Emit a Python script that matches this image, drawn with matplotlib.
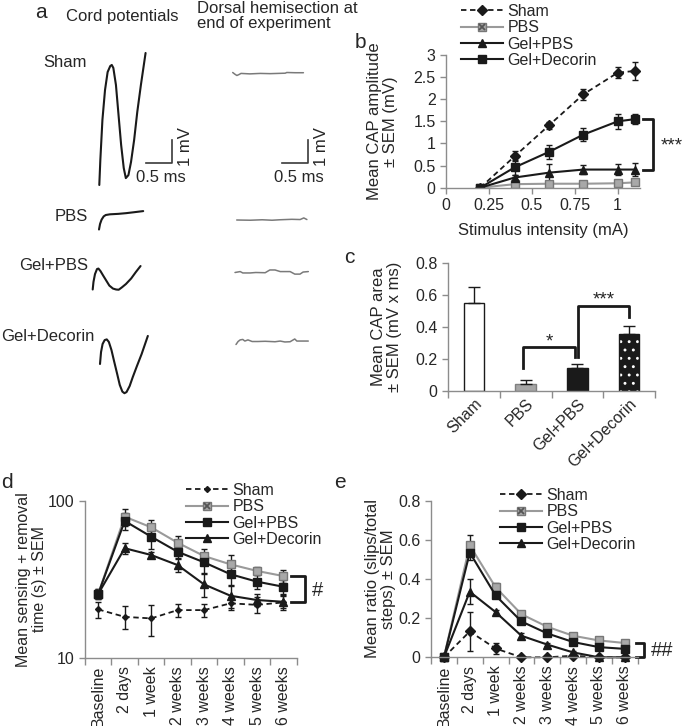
import matplotlib
matplotlib.use('Agg')
import matplotlib.pyplot as plt
from matplotlib.legend_handler import HandlerTuple

plt.rcParams['font.family'] = ['Liberation Sans', 'DejaVu Sans']
FS = 11.5
FL = 12
TXT = '#262626'
AXC = '#8c8c8c'
BLK = '#1a1a1a'
plt.rcParams.update({'font.size': FS, 'text.color': TXT, 'axes.labelcolor': TXT,
                     'xtick.color': AXC, 'ytick.color': AXC,
                     'xtick.labelcolor': TXT, 'ytick.labelcolor': TXT,
                     'axes.edgecolor': AXC, 'hatch.linewidth': 0.9})

# ------------------------------------------------------------------ data
groups = ['Sham', 'PBS', 'Gel+PBS', 'Gel+Decorin']

# panel a: example traces (time in ms, potential in mV, relative to trace start)
cord_sham_t = [0, 0.02, 0.06, 0.11, 0.16, 0.21, 0.24, 0.27, 0.32, 0.37, 0.42, 0.47, 0.51, 0.56, 0.61, 0.67, 0.73, 0.80, 0.89]
cord_sham_v = [0, 1.09, 2.83, 4.13, 4.91, 5.17, 5.22, 5.09, 4.35, 3.04, 1.74, 0.74, 0.30, 0.43, 1.0, 1.96, 3.17, 4.35, 5.74]
cord_pbs_t = [0, 0.02, 0.05, 0.09, 0.13, 0.21, 0.37, 0.52, 0.67, 0.85]
cord_pbs_v = [0, 0.24, 0.43, 0.57, 0.63, 0.66, 0.68, 0.71, 0.75, 0.80]
cord_gelpbs_t = [0, 0.015, 0.044, 0.083, 0.11, 0.15, 0.20, 0.26, 0.32, 0.39, 0.45, 0.50, 0.56, 0.64, 0.74, 0.83, 0.92]
cord_gelpbs_v = [0, 0.33, 0.67, 0.89, 0.91, 0.80, 0.61, 0.39, 0.17, 0.04, 0, -0.01, 0.09, 0.24, 0.48, 0.76, 1.02]
cord_geldec_t = [0, 0.02, 0.05, 0.09, 0.13, 0.17, 0.22, 0.27, 0.33, 0.38, 0.43, 0.47, 0.51, 0.57, 0.63, 0.71, 0.80, 0.92]
cord_geldec_v = [0, 0.52, 0.87, 1.04, 1.07, 0.96, 0.61, 0.13, -0.43, -0.91, -1.20, -1.27, -1.22, -0.96, -0.57, -0.09, 0.43, 1.22]

hemi_sham_t = [0, 0.04, 0.08, 0.12, 0.16, 0.33, 0.53, 0.72, 1.01, 1.04, 1.20, 1.36]
hemi_sham_v = [0, -0.07, -0.13, -0.09, -0.04, -0.06, -0.04, -0.05, -0.03, 0, -0.01, -0.01]
hemi_pbs_t = [0, 0.26, 0.49, 0.68, 0.83, 1.06, 1.22, 1.29, 1.35]
hemi_pbs_v = [0, -0.01, 0.01, -0.01, 0.01, 0.03, 0.02, 0.09, 0.02]
hemi_gelpbs_t = [0, 0.10, 0.15, 0.29, 0.40, 0.58, 0.67, 0.77, 0.87, 1.06, 1.15, 1.25, 1.31, 1.41]
hemi_gelpbs_v = [0, 0.04, -0.02, -0.02, 0, -0.01, 0.11, 0.11, 0.04, 0.04, -0.07, -0.07, 0.02, 0.04]
hemi_geldec_t = [0, 0.04, 0.08, 0.13, 0.17, 0.23, 0.31, 0.42, 0.56, 0.75, 0.85, 0.94, 1.04, 1.10, 1.13, 1.17, 1.23, 1.39]
hemi_geldec_v = [0, 0.13, 0.20, 0.22, 0.15, 0.20, 0.13, 0.13, 0.14, 0.12, 0.15, 0.11, 0.12, 0.20, 0.24, 0.15, 0.15, 0.15]

# panel b: CAP amplitude vs stimulus
stim_mA = [0.2, 0.4, 0.6, 0.8, 1.0, 1.1]
amp_sham = [0, 0.71, 1.41, 2.11, 2.6, 2.64]
amp_sham_err = [0, 0.11, 0.08, 0.12, 0.12, 0.2]
amp_pbs = [0, 0.08, 0.09, 0.09, 0.1, 0.12]
amp_pbs_err = [0, 0.02, 0.02, 0.02, 0.02, 0.03]
amp_gelpbs = [0, 0.23, 0.34, 0.41, 0.41, 0.41]
amp_gelpbs_err = [0, 0.05, 0.2, 0.1, 0.12, 0.15]
amp_geldec = [0, 0.46, 0.81, 1.2, 1.5, 1.55]
amp_geldec_err = [0, 0.17, 0.15, 0.15, 0.17, 0.12]

# panel c: CAP area
area_mean = [0.55, 0.045, 0.14, 0.355]
area_err = [0.10, 0.02, 0.025, 0.05]

# panels d, e
time_labels = ['Baseline', '2 days', '1 week', '2 weeks', '3 weeks', '4 weeks', '5 weeks', '6 weeks']
sr_sham = [20.3, 18.2, 17.8, 20.1, 20.1, 22.2, 21.7, 22.5]
sr_sham_err = [2.5, 3, 4, 2, 2, 2, 2.5, 2.5]
sr_pbs = [25.5, 79.1, 67.7, 54.0, 44.4, 39.3, 35.7, 33.1]
sr_pbs_err = [2, 10, 8, 6, 5, 6, 2, 3]
sr_gelpbs = [25.5, 74.3, 59.0, 47.3, 40.5, 34.0, 30.5, 28.3]
sr_gelpbs_err = [2, 9, 10, 5, 6, 5, 3, 3]
sr_geldec = [25.5, 49.8, 45.1, 38.9, 29.3, 24.8, 23.3, 22.7]
sr_geldec_err = [1.5, 4, 2, 4, 5, 4, 2, 2]

sl_sham = [0, 0.132, 0.045, 0, 0, 0.008, 0, 0]
sl_sham_err = [0, 0.1, 0.027, 0, 0, 0.008, 0, 0]
sl_pbs = [0, 0.572, 0.358, 0.22, 0.156, 0.11, 0.086, 0.073]
sl_pbs_err = [0, 0.055, 0.02, 0.01, 0.01, 0.008, 0.008, 0.006]
sl_gelpbs = [0, 0.535, 0.316, 0.183, 0.122, 0.078, 0.052, 0.043]
sl_gelpbs_err = [0, 0.04, 0.012, 0.01, 0.01, 0.008, 0.006, 0.006]
sl_geldec = [0, 0.335, 0.231, 0.11, 0.065, 0.025, 0, 0]
sl_geldec_err = [0, 0.065, 0.01, 0.012, 0.008, 0.008, 0, 0]

# ------------------------------------------------------------------ layout helpers
FW, FH = 685, 726
fig = plt.figure(figsize=(FW / 100, FH / 100), dpi=100)


def rect(l, t, r, b):
    return [l / FW, 1 - b / FH, (r - l) / FW, (b - t) / FH]


def ftext(x, y, s, **kw):
    fig.text(x / FW, 1 - y / FH, s, **kw)


def style_axes(ax):
    for s in ['top', 'right']:
        ax.spines[s].set_visible(False)
    for s in ['left', 'bottom']:
        ax.spines[s].set_color(AXC)
        ax.spines[s].set_linewidth(1)
    ax.tick_params(which='both', direction='out', length=4, width=1, labelsize=FS)


def ylabel_at(ax, text, right_px, size=FL):
    ax.set_ylabel(text, fontsize=size, linespacing=1.1)
    bb = ax.get_position()
    ax.yaxis.set_label_coords((right_px / FW - bb.x0) / bb.width, 0.5)


def series(ax, x, y, err, kind, sham_ms=5):
    kw = dict(capsize=2.5, ecolor=BLK, elinewidth=1, capthick=1)
    if kind == 'Sham':
        h = ax.errorbar(x, y, yerr=err, color=BLK, ls=(0, (3, 2)), lw=1.3, marker='D', ms=sham_ms, **kw)
        return h.lines[0]
    if kind == 'PBS':
        h = ax.errorbar(x, y, yerr=err, color='#9a9a9a', lw=1.5, marker='s', ms=6,
                        mfc='#a8a8a8', mec='#777777', **kw)
        h2, = ax.plot(x, y, ls='none', marker='x', ms=5, mew=1.3, color='#555555')
        return (h.lines[0], h2)
    h = ax.errorbar(x, y, yerr=err, color=BLK, lw=1.5, marker=kind, ms=6, **kw)
    return h.lines[0]


def cat_axis(ax, labels, rot, pad=4):
    n = len(labels)
    ax.set_xlim(-0.5, n - 0.5)
    ax.set_xticks(range(n))
    ax.set_xticklabels(labels, rotation=rot)
    ax.set_xticks([i - 0.5 for i in range(n + 1)], minor=True)
    ax.tick_params(axis='x', which='major', length=0, pad=pad)
    ax.tick_params(axis='x', which='minor', length=5)


def legend(ax, handles, x, y):
    ax.legend(handles, groups, loc='upper left', bbox_to_anchor=(x / FW, 1 - y / FH),
              bbox_transform=fig.transFigure, frameon=False, borderpad=0, borderaxespad=0,
              handlelength=2.6, handletextpad=0.3, labelspacing=0.08, fontsize=FS,
              handler_map={tuple: HandlerTuple(ndivide=1, pad=0)})


# ------------------------------------------------------------------ panel a
PX_MS, PX_MV = 52.0, 23.0
WA, HA = 340, 450
axa = fig.add_axes(rect(0, 0, WA, HA))
axa.set_xlim(0, WA / PX_MS)
axa.set_ylim(-HA / PX_MV, 0)
axa.axis('off')


def trace(t, v, start, color, lw):
    x0, y0 = start[0] / PX_MS, -start[1] / PX_MV
    axa.plot([x0 + a for a in t], [y0 + b for b in v], color=color, lw=lw,
             solid_joinstyle='round', solid_capstyle='round')


trace(cord_sham_t, cord_sham_v, (99.3, 185), BLK, 1.5)
trace(cord_pbs_t, cord_pbs_v, (99, 229.5), BLK, 1.5)
trace(cord_gelpbs_t, cord_gelpbs_v, (92.7, 289.5), BLK, 1.5)
trace(cord_geldec_t, cord_geldec_v, (100, 364), BLK, 1.5)
trace(hemi_sham_t, hemi_sham_v, (232.7, 72.5), '#7a7a7a', 1.1)
trace(hemi_pbs_t, hemi_pbs_v, (236.7, 220), '#7a7a7a', 1.1)
trace(hemi_gelpbs_t, hemi_gelpbs_v, (235, 272.5), '#7a7a7a', 1.1)
trace(hemi_geldec_t, hemi_geldec_v, (236, 344.5), '#7a7a7a', 1.1)

for cx, cy in [(171.7, 163.3), (308.3, 163.3)]:
    x0, y0 = cx / PX_MS, -cy / PX_MV
    axa.plot([x0 - 0.5, x0, x0], [y0, y0, y0 + 1.0], color='#3a3a3a', lw=1.2)
ftext(161, 177, '0.5 ms', ha='center', va='center', fontsize=FL)
ftext(298.5, 177, '0.5 ms', ha='center', va='center', fontsize=FL)
ftext(186, 146.5, '1 mV', ha='center', va='center', rotation=90, fontsize=FL)
ftext(322, 146.5, '1 mV', ha='center', va='center', rotation=90, fontsize=FL)

ftext(41, 13, 'a', ha='center', va='center', fontsize=15)
ftext(66.5, 16.5, 'Cord potentials', ha='left', va='center', fontsize=FL)
ftext(197, 16, 'Dorsal hemisection at\nend of experiment', ha='left', va='center',
      fontsize=FL, linespacing=1.05)
ftext(43, 62.5, 'Sham', ha='left', va='center', fontsize=FL)
ftext(55, 216.5, 'PBS', ha='left', va='center', fontsize=FL)
ftext(19, 265, 'Gel+PBS', ha='left', va='center', fontsize=FL)
ftext(1, 336.5, 'Gel+Decorin', ha='left', va='center', fontsize=FL)

# ------------------------------------------------------------------ panel b
axb = fig.add_axes(rect(446, 55, 640, 187.7))
style_axes(axb)
hb = [series(axb, stim_mA, amp_sham, amp_sham_err, 'Sham'),
      series(axb, stim_mA, amp_pbs, amp_pbs_err, 'PBS'),
      series(axb, stim_mA, amp_gelpbs, amp_gelpbs_err, '^'),
      series(axb, stim_mA, amp_geldec, amp_geldec_err, 's')]
axb.set_xlim(0, 1.13)
axb.set_ylim(0, 3)
axb.set_xticks([0, 0.25, 0.5, 0.75, 1])
axb.set_xticklabels(['0', '0.25', '0.5', '0.75', '1'])
axb.set_yticks([0, 0.5, 1, 1.5, 2, 2.5, 3])
axb.set_yticklabels(['0', '0.5', '1', '1.5', '2', '2.5', '3'])
axb.set_xlabel('Stimulus intensity (mA)', fontsize=FL, labelpad=7)
ylabel_at(axb, 'Mean CAP amplitude\n± SEM (mV)', 398)
axb.plot([1.145, 1.205, 1.205, 1.145], [amp_geldec[-1], amp_geldec[-1], amp_gelpbs[-1], amp_gelpbs[-1]],
         color=BLK, lw=2, clip_on=False)
ftext(672, 146, '***', ha='center', va='center', fontsize=FS + 2)
legend(axb, hb, 461, 4)
ftext(360, 42, 'b', ha='center', va='center', fontsize=15)

# ------------------------------------------------------------------ panel c
axc = fig.add_axes(rect(448, 262.7, 655, 390.7))
style_axes(axc)
xc = list(range(len(groups)))
face = ['white', '#a6a6a6', BLK, BLK]
edge = [BLK, '#7f7f7f', BLK, BLK]
for i in xc:
    if groups[i] == 'Gel+Decorin':
        axc.bar(i, area_mean[i], width=0.4, color=BLK, edgecolor='white', hatch='..', lw=0)
        axc.bar(i, area_mean[i], width=0.4, fill=False, edgecolor=BLK, lw=1)
    else:
        axc.bar(i, area_mean[i], width=0.4, color=face[i], edgecolor=edge[i], lw=1)
axc.errorbar(xc, area_mean, yerr=[[0] * 4, area_err], fmt='none', ecolor=BLK,
             elinewidth=1, capsize=4, capthick=1)
cat_axis(axc, groups, 45)
for lab in axc.get_xticklabels():
    lab.set_ha('right')
    lab.set_rotation_mode('anchor')
axc.set_ylim(0, 0.8)
axc.set_yticks([0, 0.2, 0.4, 0.6, 0.8])
axc.set_yticklabels(['0', '0.2', '0.4', '0.6', '0.8'])
ylabel_at(axc, 'Mean CAP area\n± SEM (mV x ms)', 402)
axc.plot([0.95, 0.95, 1.95, 1.95], [0.14, 0.275, 0.275, 0.21], color=BLK, lw=2, clip_on=False)
axc.text(1.45, 0.305, '*', ha='center', va='center', fontsize=FS + 2)
axc.plot([2.02, 2.02, 3.0, 3.0], [0.21, 0.53, 0.53, 0.46], color=BLK, lw=2, clip_on=False)
axc.text(2.5, 0.57, '***', ha='center', va='center', fontsize=FS + 2)
ftext(349, 258, 'c', ha='center', va='center', fontsize=15)

# ------------------------------------------------------------------ panel d
xt = list(range(len(time_labels)))
axd = fig.add_axes(rect(85, 500.7, 296.7, 657.7))
style_axes(axd)
hd = [series(axd, xt, sr_sham, sr_sham_err, 'Sham', sham_ms=3),
      series(axd, xt, sr_pbs, sr_pbs_err, 'PBS'),
      series(axd, xt, sr_gelpbs, sr_gelpbs_err, 's'),
      series(axd, xt, sr_geldec, sr_geldec_err, '^')]
axd.set_yscale('log')
axd.set_ylim(10, 100)
axd.set_yticks([10, 100])
axd.set_yticklabels(['10', '100'])
axd.yaxis.set_minor_locator(plt.NullLocator())
cat_axis(axd, time_labels, 90, pad=6)
ylabel_at(axd, 'Mean sensing + removal\ntime (s) ± SEM', 47, size=11.5)
axd.plot([7.3, 7.8, 7.8, 7.3], [sr_pbs[-1], sr_pbs[-1], sr_geldec[-1], sr_geldec[-1]],
         color=BLK, lw=2, clip_on=False)
ftext(317, 590, '#', ha='center', va='center', fontsize=FS + 3)
legend(axd, hd, 186, 483)
ftext(7, 482, 'd', ha='center', va='center', fontsize=15)

# ------------------------------------------------------------------ panel e
axe = fig.add_axes(rect(431, 500.7, 637.7, 657.3))
style_axes(axe)
he = [series(axe, xt, sl_sham, sl_sham_err, 'Sham'),
      series(axe, xt, sl_pbs, sl_pbs_err, 'PBS'),
      series(axe, xt, sl_gelpbs, sl_gelpbs_err, 's'),
      series(axe, xt, sl_geldec, sl_geldec_err, '^')]
axe.set_ylim(0, 0.8)
axe.set_yticks([0, 0.2, 0.4, 0.6, 0.8])
axe.set_yticklabels(['0', '0.2', '0.4', '0.6', '0.8'])
for ln in axe.lines:
    ln.set_clip_on(False)
cat_axis(axe, time_labels, 90, pad=6)
ylabel_at(axe, 'Mean ratio (slips/total\nsteps) ± SEM', 396)
axe.plot([7.45, 7.75, 7.75, 7.45], [sl_pbs[-1], sl_pbs[-1], 0, 0], color=BLK, lw=2, clip_on=False)
ftext(662, 651, '##', ha='center', va='center', fontsize=FS + 3)
legend(axe, he, 500, 488)
ftext(340, 483, 'e', ha='center', va='center', fontsize=15)

fig.savefig('out.png', dpi=100)
